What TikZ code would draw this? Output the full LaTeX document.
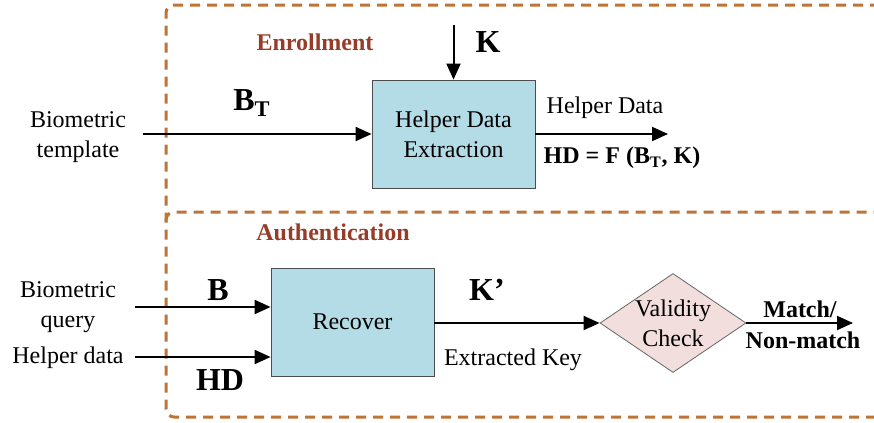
\documentclass[tikz,border=0pt]{standalone}
\usepackage{fontspec}
\setmainfont{Liberation Serif}
\usetikzlibrary{positioning, shapes.geometric, arrows.meta}
\definecolor{boxblue}{RGB}{180,220,230}
\definecolor{chkpink}{RGB}{242,222,220}
\definecolor{dashbrown}{RGB}{190,115,55}
\definecolor{phasered}{RGB}{150,60,40}

\begin{document}
\begin{tikzpicture}[x=0.5pt, y=-0.5pt, font=\fontsize{12}{15}\selectfont,
   block/.style={draw=black!70, fill=boxblue, minimum width=81.5pt, minimum height=54pt, align=center},
   check/.style={diamond, draw=black!60, fill=chkpink, minimum width=73pt, minimum height=49.5pt, inner sep=0pt},
   flow/.style={-{Triangle[length=8pt,width=7pt]}, line width=1pt},
   phase/.style={draw=dashbrown, line width=1.5pt, dash pattern=on 5pt off 3.5pt, rounded corners=4pt},
   phasename/.style={text=phasered, font=\fontsize{12}{14}\selectfont\bfseries},
   sym/.style={font=\fontsize{16}{18}\selectfont\bfseries},
   symsmall/.style={font=\fontsize{12}{15}\selectfont\bfseries, align=center}]
\useasboundingbox (0,0) rectangle (874,423);
\draw[phase] (880,5) -- (166,5) -- (166,417) -- (880,417);
\draw[phase] (166,222) -- (166,212) -- (880,212);
\node[phasename] (enr) at (315,42) {Enrollment};
\node[phasename] (auth) at (333,232) {Authentication};

\node[block] (hde) at (453.5,134) {Helper Data\\Extraction};
\node[align=center] (tmpl) at (78,137) {Biometric\\template};
\coordinate (tin) at (143,134);
\draw[flow] (tin) -- (hde.west);
\node[sym] (bt) at (252,103) {B\textsubscript{T}};
\coordinate (kin) at (453.5,25);
\draw[flow] (kin) -- (hde.north);
\node[sym] (k) at (488,42) {K};
\coordinate (hdout) at (668,134);
\draw[flow] (hde.east) -- (hdout);
\node (hdname) at (605,108) {Helper Data};
\node[symsmall] (hdf) at (622,158) {HD = F (B\textsubscript{T}, K)};

\node[block] (rec) at (352.5,322) {Recover};
\node[align=center] (query) at (68,307) {Biometric\\query};
\node (hdin) at (68,358) {Helper data};
\coordinate (qin) at (135,307);
\coordinate (din) at (135,357);
\draw[flow] (qin) -- (qin -| rec.west);
\draw[flow] (din) -- (din -| rec.west);
\node[sym] (b) at (218,290) {B};
\node[sym] (hd) at (220,380) {HD};
\node[check] (chk) at (673,323) {};
\node[align=center] (chktxt) at (chk) {Validity\\Check};
\draw[flow] (rec.east |- chk) -- (chk.west);
\node[sym] (kp) at (487,290) {K’};
\node (xkey) at (513,360) {Extracted Key};
\coordinate (res) at (853,323);
\draw[flow] (chk.east) -- (res);
\node[symsmall] (match) at (800,309) {Match/};
\node[symsmall] (nomatch) at (803,340) {Non-match};
\end{tikzpicture}
\end{document}
